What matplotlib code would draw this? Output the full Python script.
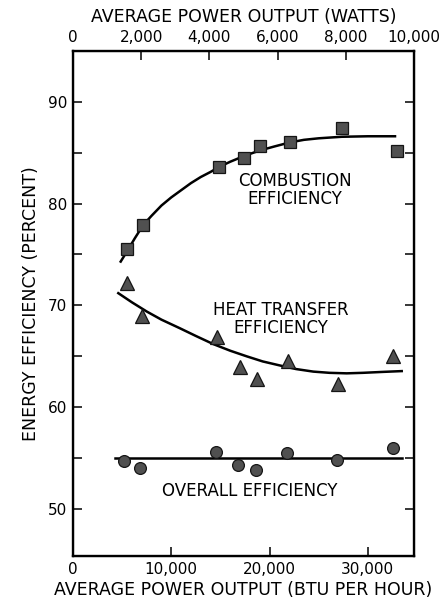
import matplotlib
matplotlib.use("Agg")
import matplotlib.pyplot as plt
from matplotlib.ticker import MultipleLocator, FixedLocator, FuncFormatter

plt.rcParams['font.family'] = ['DejaVu Sans']

# measured points (BTU per hour, percent)
comb_x = [5495, 7154, 14888, 17432, 19029, 22082, 27343, 32940]
comb_y = [75.5, 77.9, 83.6, 84.5, 85.6, 86.0, 87.4, 85.2]
heat_x = [5465, 6991, 14623, 16994, 18754, 21848, 26936, 32595]
heat_y = [72.2, 69.0, 66.9, 64.0, 62.8, 64.5, 62.3, 65.0]
over_x = [5190, 6818, 14552, 16821, 18623, 21747, 26896, 32533]
over_y = [54.7, 54.0, 55.6, 54.3, 53.8, 55.5, 54.8, 56.0]

# fitted curves
comb_fit_x = [4854, 5495, 6300, 7154, 8000, 9000, 10000, 11000, 12000, 13000, 14000,
              14888, 16000, 17500, 19000, 20500, 22082, 23500, 25000, 27343, 30000, 32767]
comb_fit_y = [74.3, 75.3, 76.6, 77.9, 78.8, 79.8, 80.6, 81.3, 82.0, 82.6, 83.1,
              83.6, 84.1, 84.7, 85.2, 85.6, 86.0, 86.25, 86.4, 86.55, 86.6, 86.6]
heat_fit_x = [4610, 6000, 7500, 9000, 10888, 12500, 14277, 16000, 17676, 19300, 21064,
              22700, 24453, 26100, 27852, 29500, 31500, 33449]
heat_fit_y = [71.2, 70.3, 69.4, 68.6, 67.75, 67.0, 66.2, 65.55, 65.0, 64.5, 64.1,
              63.75, 63.5, 63.38, 63.33, 63.38, 63.47, 63.55]
over_fit_x = [4274, 33449]
over_fit_y = [55.0, 55.0]

bottom_ticks = [0, 10000, 20000, 30000]
top_ticks = [0, 2000, 4000, 6000, 8000, 10000]

fig = plt.figure(figsize=(4.41, 6.02), dpi=100)
ax = fig.add_axes([0.1655, 0.0764, 0.7733, 0.8394])

mk = dict(linestyle='none', markerfacecolor='#505050', markeredgecolor='#151515', markeredgewidth=0.9)
ax.plot(comb_fit_x, comb_fit_y, color='black', lw=1.8, solid_joinstyle='round')
ax.plot(heat_fit_x, heat_fit_y, color='black', lw=1.8, solid_joinstyle='round')
ax.plot(over_fit_x, over_fit_y, color='black', lw=1.8)
ax.plot(comb_x, comb_y, marker='s', markersize=9, **mk)
ax.plot(heat_x, heat_y, marker='^', markersize=10.5, **mk)
ax.plot(over_x, over_y, marker='o', markersize=8.5, **mk)

ax.set_xlim(0, 34700)
ax.set_ylim(45.4, 95)
ax.xaxis.set_major_locator(FixedLocator(bottom_ticks))
ax.xaxis.set_major_formatter(FuncFormatter(lambda v, p: format(int(v), ',')))
ax.yaxis.set_major_locator(MultipleLocator(10))
ax.yaxis.set_minor_locator(MultipleLocator(5))
ax.tick_params(which='both', direction='in', length=6.5, width=1.1, labelsize=11,
               right=True, pad=4)
for s in ax.spines.values():
    s.set_linewidth(1.7)

ax2 = ax.twiny()
ax2.set_xlim(0, 10000)
ax2.xaxis.set_major_locator(FixedLocator(top_ticks))
ax2.xaxis.set_major_formatter(FuncFormatter(lambda v, p: format(int(v), ',')))
ax2.tick_params(direction='in', length=6.5, width=1.1, labelsize=11, pad=4)

ax.set_xlabel('AVERAGE POWER OUTPUT (BTU PER HOUR)', fontsize=12.5, labelpad=3)
ax2.set_xlabel('AVERAGE POWER OUTPUT (WATTS)', fontsize=12.5, labelpad=6)
ax.set_ylabel('ENERGY EFFICIENCY (PERCENT)', fontsize=12.5, labelpad=6)

ax.text(22540, 81.3, 'COMBUSTION\nEFFICIENCY', ha='center', va='center', fontsize=12, linespacing=1.0)
ax.text(21170, 68.7, 'HEAT TRANSFER\nEFFICIENCY', ha='center', va='center', fontsize=12, linespacing=1.0)
ax.text(18010, 51.8, 'OVERALL EFFICIENCY', ha='center', va='center', fontsize=12)

fig.savefig('out.png', dpi=100)
